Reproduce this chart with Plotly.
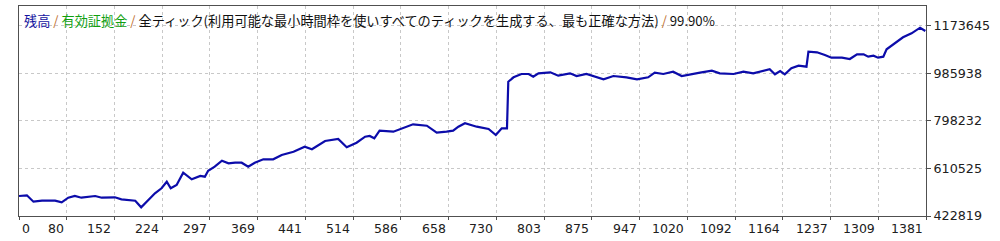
import plotly.graph_objects as go

# ---- data ----
trades = [0, 12, 22, 35, 55, 65, 75, 85, 95, 116, 126, 146, 156, 177, 186, 194, 207, 217, 225, 231,
          240, 250, 263, 276, 283, 288, 298, 309, 319, 329, 339, 349, 359, 372, 387, 400, 418, 435, 446, 466,
          486, 499, 514, 527, 534, 541, 549, 570, 585, 600, 621, 636, 651, 661, 669, 679, 697, 715, 726, 735,
          743, 745, 753, 765, 776, 783, 791, 809, 821, 839, 849, 864, 890, 905, 925, 941, 958, 968, 981, 996,
          1009, 1024, 1037, 1055, 1067, 1088, 1103, 1118, 1128, 1143, 1151, 1159, 1166, 1176, 1187, 1199, 1202, 1215, 1227, 1237,
          1253, 1265, 1276, 1286, 1293, 1301, 1308, 1316, 1321, 1334, 1346, 1359, 1372, 1380]
balance = [501700, 504400, 479210, 483150, 483150, 476840, 494980, 501690, 494980, 501690,
           494980, 496560, 488670, 483150, 457130, 479210, 512330, 532050, 558080, 532050,
           545060, 593570, 567540, 580560, 577800, 601460, 617230, 640890, 630640, 633000,
           633000, 617230, 633000, 646410, 646410, 663370, 676380, 696100, 685840, 718570,
           726460, 693730, 711870, 735530, 738290, 729220, 759190, 755250, 768660, 784430,
           778910, 751300, 755250, 759190, 774970, 788370, 774970, 765900, 742230, 768660,
           768660, 952420, 969770, 982780, 982780, 972140, 985540, 989490, 976080, 985540,
           974900, 982780, 961880, 974900, 969770, 961880, 969770, 987910, 982780, 991850,
           974900, 982780, 987910, 995800, 985540, 982780, 991850, 985540, 991850, 1001320,
           981600, 994610, 981600, 1005260, 1015510, 1011570, 1070720, 1068350, 1057710, 1047060,
           1047060, 1041930, 1060460, 1060460, 1051000, 1054950, 1047060, 1051000, 1080180, 1103840,
           1127500, 1143280, 1165360, 1152350]

x_tick_labels = ["0", "80", "152", "224", "297", "369", "441", "514", "586", "658",
                 "730", "803", "875", "947", "1020", "1092", "1164", "1237", "1309", "1381"]
y_tick_labels = ["422819", "610525", "798232", "985938", "1173645"]
x_max = 1381
y_min = 422819
y_step = 187706.5
y_max = 1250933

x_tickvals = [i * x_max / (len(x_tick_labels) - 1) for i in range(len(x_tick_labels))]
y_tickvals = [y_min + k * y_step for k in range(len(y_tick_labels))]

fig = go.Figure()
fig.add_trace(go.Scatter(x=trades, y=balance, mode="lines",
                         line=dict(color="#0c0caa", width=2.2), hoverinfo="skip"))

grid = dict(showgrid=True, gridcolor="#c8c8c8", gridwidth=1, griddash="3px,3px",
            showline=True, linecolor="#505050", linewidth=1, mirror=True, zeroline=False)

fig.update_layout(
    width=1000, height=241,
    margin=dict(l=19, r=74, t=6, b=25),
    paper_bgcolor="white", plot_bgcolor="white",
    showlegend=False,
    xaxis=dict(range=[0, x_max], tickmode="array", tickvals=x_tickvals,
               showticklabels=False, ticks="outside", ticklen=3, tickcolor="#505050", **grid),
    yaxis=dict(range=[y_min, y_max], side="right", tickmode="array", tickvals=y_tickvals,
               ticktext=y_tick_labels, ticks="outside", ticklen=4, tickcolor="#505050",
               tickfont=dict(family="DejaVu Sans", size=12.7, color="#202020"), **grid),
)

for i, (xv, lab) in enumerate(zip(x_tickvals, x_tick_labels)):
    fig.add_annotation(x=xv, y=0, xref="x", yref="paper", text=lab, showarrow=False,
                       xanchor="left" if i == 0 else "right", yanchor="top",
                       xshift=1 if i == 0 else -1, yshift=-3,
                       font=dict(family="DejaVu Sans", size=12.5, color="#202020"))

sep = '<span style="color:#c07030"> / </span>'
title = ('<span style="color:#1414a0">残高</span>' + sep +
         '<span style="color:#10a010">有効証拠金</span>' + sep +
         '<span style="color:#101010">全ティック(利用可能な最小時間枠を使いすべてのティックを生成する、最も正確な方法)</span>' +
         sep + '<span style="color:#101010">99.90%</span>')
fig.add_annotation(x=0, y=1, xref="paper", yref="paper", text=title, showarrow=False,
                   xanchor="left", yanchor="top", xshift=3, yshift=-3,
                   font=dict(family="Noto Sans CJK JP", size=13.2, color="#101010"))

fig.write_html("out.html", config={"displayModeBar": False})
